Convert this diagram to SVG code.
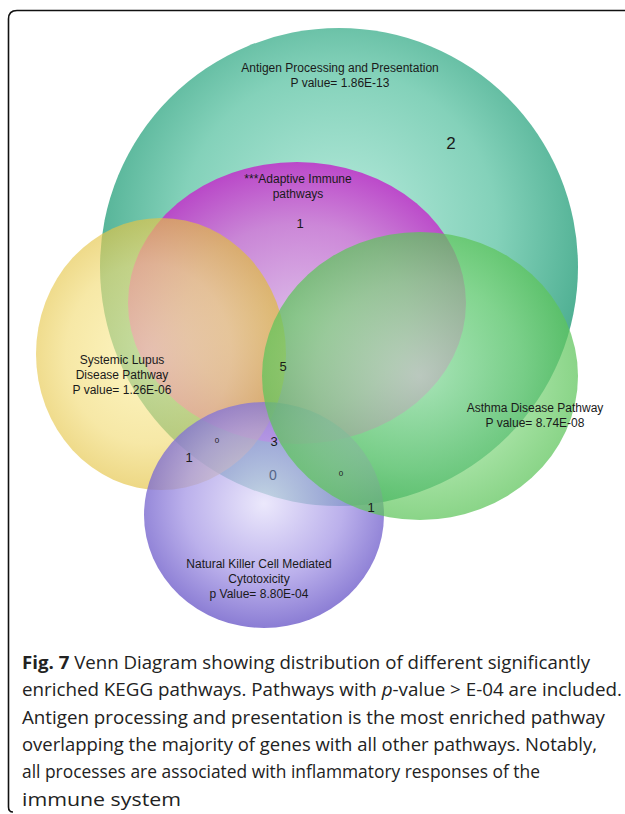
<svg xmlns="http://www.w3.org/2000/svg" width="625" height="814" viewBox="0 0 625 814">
<style>
.lbl{font-family:"Liberation Sans",Arial,sans-serif;font-size:12px;fill:#1a1a1a;text-anchor:middle}
.num{font-family:"Liberation Sans",Arial,sans-serif;font-size:13px;fill:#1a1a1a;text-anchor:middle}
.sm{font-family:"Liberation Sans",Arial,sans-serif;font-size:8px;fill:#1a1a1a;text-anchor:middle}
.cap{font-family:"Open Sans","Noto Sans",sans-serif;font-size:18px;fill:#222}
</style>
<defs>
<radialGradient id="gT" cx="0.5" cy="0.42" r="0.55"><stop offset="0" stop-color="#b4eadb"/><stop offset="0.6" stop-color="#7dcfb6"/><stop offset="1" stop-color="#3fa788"/></radialGradient>
<radialGradient id="gM" cx="0.5" cy="0.55" r="0.55"><stop offset="0" stop-color="#e4b4ec"/><stop offset="0.6" stop-color="#d07ad8"/><stop offset="1" stop-color="#bf33c9"/></radialGradient>
<radialGradient id="gY" cx="0.45" cy="0.5" r="0.55"><stop offset="0" stop-color="#fcf1a4"/><stop offset="0.6" stop-color="#f2dc78"/><stop offset="1" stop-color="#dfbb34"/></radialGradient>
<radialGradient id="gG" cx="0.5" cy="0.5" r="0.55"><stop offset="0" stop-color="#b8ecb8"/><stop offset="0.6" stop-color="#82d67f"/><stop offset="1" stop-color="#52bf4f"/></radialGradient>
<radialGradient id="gP" cx="0.5" cy="0.45" r="0.55"><stop offset="0" stop-color="#e6e2fb"/><stop offset="0.6" stop-color="#a89ae6"/><stop offset="1" stop-color="#6a58c8"/></radialGradient>
</defs>
<path d="M13,812 Q8.5,812 8.5,807 V19 Q8.5,10.5 17,10.5 H625" fill="none" stroke="#111" stroke-width="1.6"/>
<g id="antigen"><ellipse cx="339" cy="267" rx="239" ry="239" fill="url(#gT)" fill-opacity="0.95"/></g>
<g id="adaptive"><ellipse cx="297" cy="303" rx="169" ry="141" fill="url(#gM)" fill-opacity="0.88"/></g>
<g id="lupus"><ellipse cx="161" cy="354" rx="125" ry="136" fill="url(#gY)" fill-opacity="0.66"/></g>
<g id="nk"><ellipse cx="264" cy="515" rx="120" ry="113" fill="url(#gP)" fill-opacity="0.78"/></g>
<g id="asthma"><ellipse cx="420" cy="376" rx="158" ry="144" fill="url(#gG)" fill-opacity="0.72"/></g>
<g id="connectors"></g>
<g id="labels">
<text class="lbl" x="340" y="72">Antigen Processing and Presentation</text>
<text class="lbl" x="340" y="87">P value= 1.86E-13</text>
<text class="num" x="451" y="149" style="font-size:17px">2</text>
<text class="lbl" x="298" y="183">***Adaptive Immune</text>
<text class="lbl" x="298" y="198">pathways</text>
<text class="num" x="300" y="228">1</text>
<text class="lbl" x="122" y="364">Systemic Lupus</text>
<text class="lbl" x="122" y="379">Disease Pathway</text>
<text class="lbl" x="122" y="394">P value= 1.26E-06</text>
<text class="num" x="283" y="371">5</text>
<text class="lbl" x="535" y="412">Asthma Disease Pathway</text>
<text class="lbl" x="535" y="427">P value= 8.74E-08</text>
<text class="sm" x="217" y="443">0</text>
<text class="num" x="274" y="446">3</text>
<text class="num" x="189" y="462">1</text>
<text class="num" x="273" y="480" style="font-size:14px;fill:#556688">0</text>
<text class="sm" x="341" y="476">0</text>
<text class="num" x="371" y="512">1</text>
<text class="lbl" x="259" y="568">Natural Killer Cell Mediated</text>
<text class="lbl" x="259" y="583">Cytotoxicity</text>
<text class="lbl" x="259" y="598">p Value= 8.80E-04</text>
</g>
<g id="caption">
<text class="cap" x="22" y="668.5" textLength="568" lengthAdjust="spacingAndGlyphs"><tspan font-weight="bold">Fig. 7</tspan> Venn Diagram showing distribution of different significantly</text>
<text class="cap" x="22" y="696" textLength="600" lengthAdjust="spacingAndGlyphs">enriched KEGG pathways. Pathways with <tspan font-style="italic">p</tspan>-value &gt; E-04 are included.</text>
<text class="cap" x="22" y="723.5" textLength="583" lengthAdjust="spacingAndGlyphs">Antigen processing and presentation is the most enriched pathway</text>
<text class="cap" x="22" y="751" textLength="575" lengthAdjust="spacingAndGlyphs">overlapping the majority of genes with all other pathways. Notably,</text>
<text class="cap" x="22" y="778" textLength="518" lengthAdjust="spacingAndGlyphs">all processes are associated with inflammatory responses of the</text>
<text class="cap" x="22" y="805.5" textLength="159" lengthAdjust="spacingAndGlyphs">immune system</text>
</g>
</svg>
